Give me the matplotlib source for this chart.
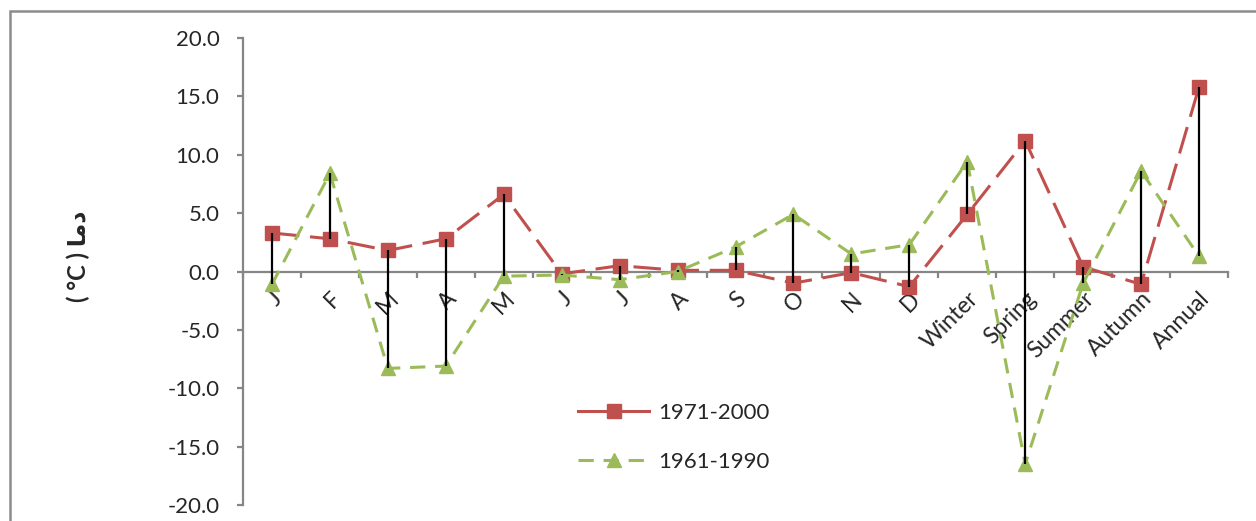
import matplotlib
matplotlib.use("Agg")
import matplotlib.pyplot as plt
from matplotlib.lines import Line2D
from matplotlib.patches import Rectangle
import numpy as np

categories = ["J", "F", "M", "A", "M", "J", "J", "A", "S", "O", "N", "D",
              "Winter", "Spring", "Summer", "Autumn", "Annual"]
series_1971_2000 = [3.3, 2.8, 1.8, 2.8, 6.6, -0.2, 0.5, 0.1, 0.1, -1.0, -0.1, -1.3,
                    4.9, 11.2, 0.4, -1.1, 15.8]
series_1961_1990 = [-1.1, 8.4, -8.3, -8.1, -0.4, -0.3, -0.7, 0.0, 2.1, 4.9, 1.5, 2.3,
                    9.4, -16.5, -1.0, 8.6, 1.3]
yticks = [-20, -15, -10, -5, 0, 5, 10, 15, 20]
label_1 = "1971-2000"
label_2 = "1961-1990"
ylabel = "( °C ) \uFE8E\uFEE3\uFEA9"

RED = "#C0504D"
GREEN = "#9BBB59"
AXC = "#868686"
TXT = "#262626"
FONT = ["Lato", "DejaVu Sans"]

plt.rcParams["font.family"] = FONT

W, H = 1256, 521
fig = plt.figure(figsize=(W / 100, H / 100), dpi=100)
ax = fig.add_axes([243 / W, 16 / H, (1228 - 243) / W, (505 - 38) / H])

x = np.arange(len(categories))
a = np.array(series_1971_2000)
b = np.array(series_1961_1990)

l1, = ax.plot(x, a, color=RED, lw=2.2, marker="s", markersize=10.5,
              markerfacecolor=RED, markeredgecolor=RED, zorder=3)
l1.set_dashes((9, 3.5))
l2, = ax.plot(x, b, color=GREEN, lw=2.2, marker="^", markersize=10.5,
              markerfacecolor=GREEN, markeredgecolor=GREEN, zorder=3)
l2.set_dashes((5, 3.2))
ax.vlines(x, np.minimum(a, b), np.maximum(a, b), color="black", lw=1.6, zorder=4)

ax.set_xlim(-0.5, len(categories) - 0.5)
ax.set_ylim(-20, 20)

for s in ["top", "right"]:
    ax.spines[s].set_visible(False)
ax.spines["bottom"].set_position(("data", 0))
for s in ["left", "bottom"]:
    ax.spines[s].set_color(AXC)
    ax.spines[s].set_linewidth(1.6)

ax.set_yticks(yticks)
ax.set_yticklabels([f"{v:.1f}" for v in yticks])
ax.tick_params(axis="y", direction="out", length=4, width=1.6, color=AXC,
               labelsize=16, labelcolor=TXT, pad=13)

ax.set_xticks(x)
ax.set_xticklabels(categories, rotation=45, ha="right", va="top",
                   rotation_mode="anchor")
ax.set_xticks(np.arange(-0.5, len(categories), 1.0), minor=True)
ax.tick_params(axis="x", which="major", length=0, labelsize=16.5,
               labelcolor=TXT, pad=12)
ax.tick_params(axis="x", which="minor", direction="out", length=4,
               width=1.6, color=AXC)

fig.text(78 / W, 1 - 256 / H, ylabel, rotation=90, ha="center", va="center",
         fontsize=17, fontweight="bold", color=TXT, family=FONT)

h1 = Line2D([], [], color=RED, lw=2.2, marker="s", markersize=10.5)
h2 = Line2D([], [], color=GREEN, lw=2.2, marker="^", markersize=10.5)
h2.set_dashes((5, 3.2))
leg = fig.legend([h1, h2], [label_1, label_2], loc="upper left",
                 bbox_to_anchor=(578 / W, 1 - 403 / H), frameon=False,
                 fontsize=16, handlelength=3.2, labelspacing=1.3,
                 borderpad=0, borderaxespad=0, handletextpad=0.4)
for t in leg.get_texts():
    t.set_color(TXT)

fig.patches.append(Rectangle((10 / W, -0.2), 2, 1 - 11 / H + 0.2,
                             transform=fig.transFigure, fill=False,
                             edgecolor="#8c8c8c", lw=1.8))

fig.savefig("out.png", dpi=100)
